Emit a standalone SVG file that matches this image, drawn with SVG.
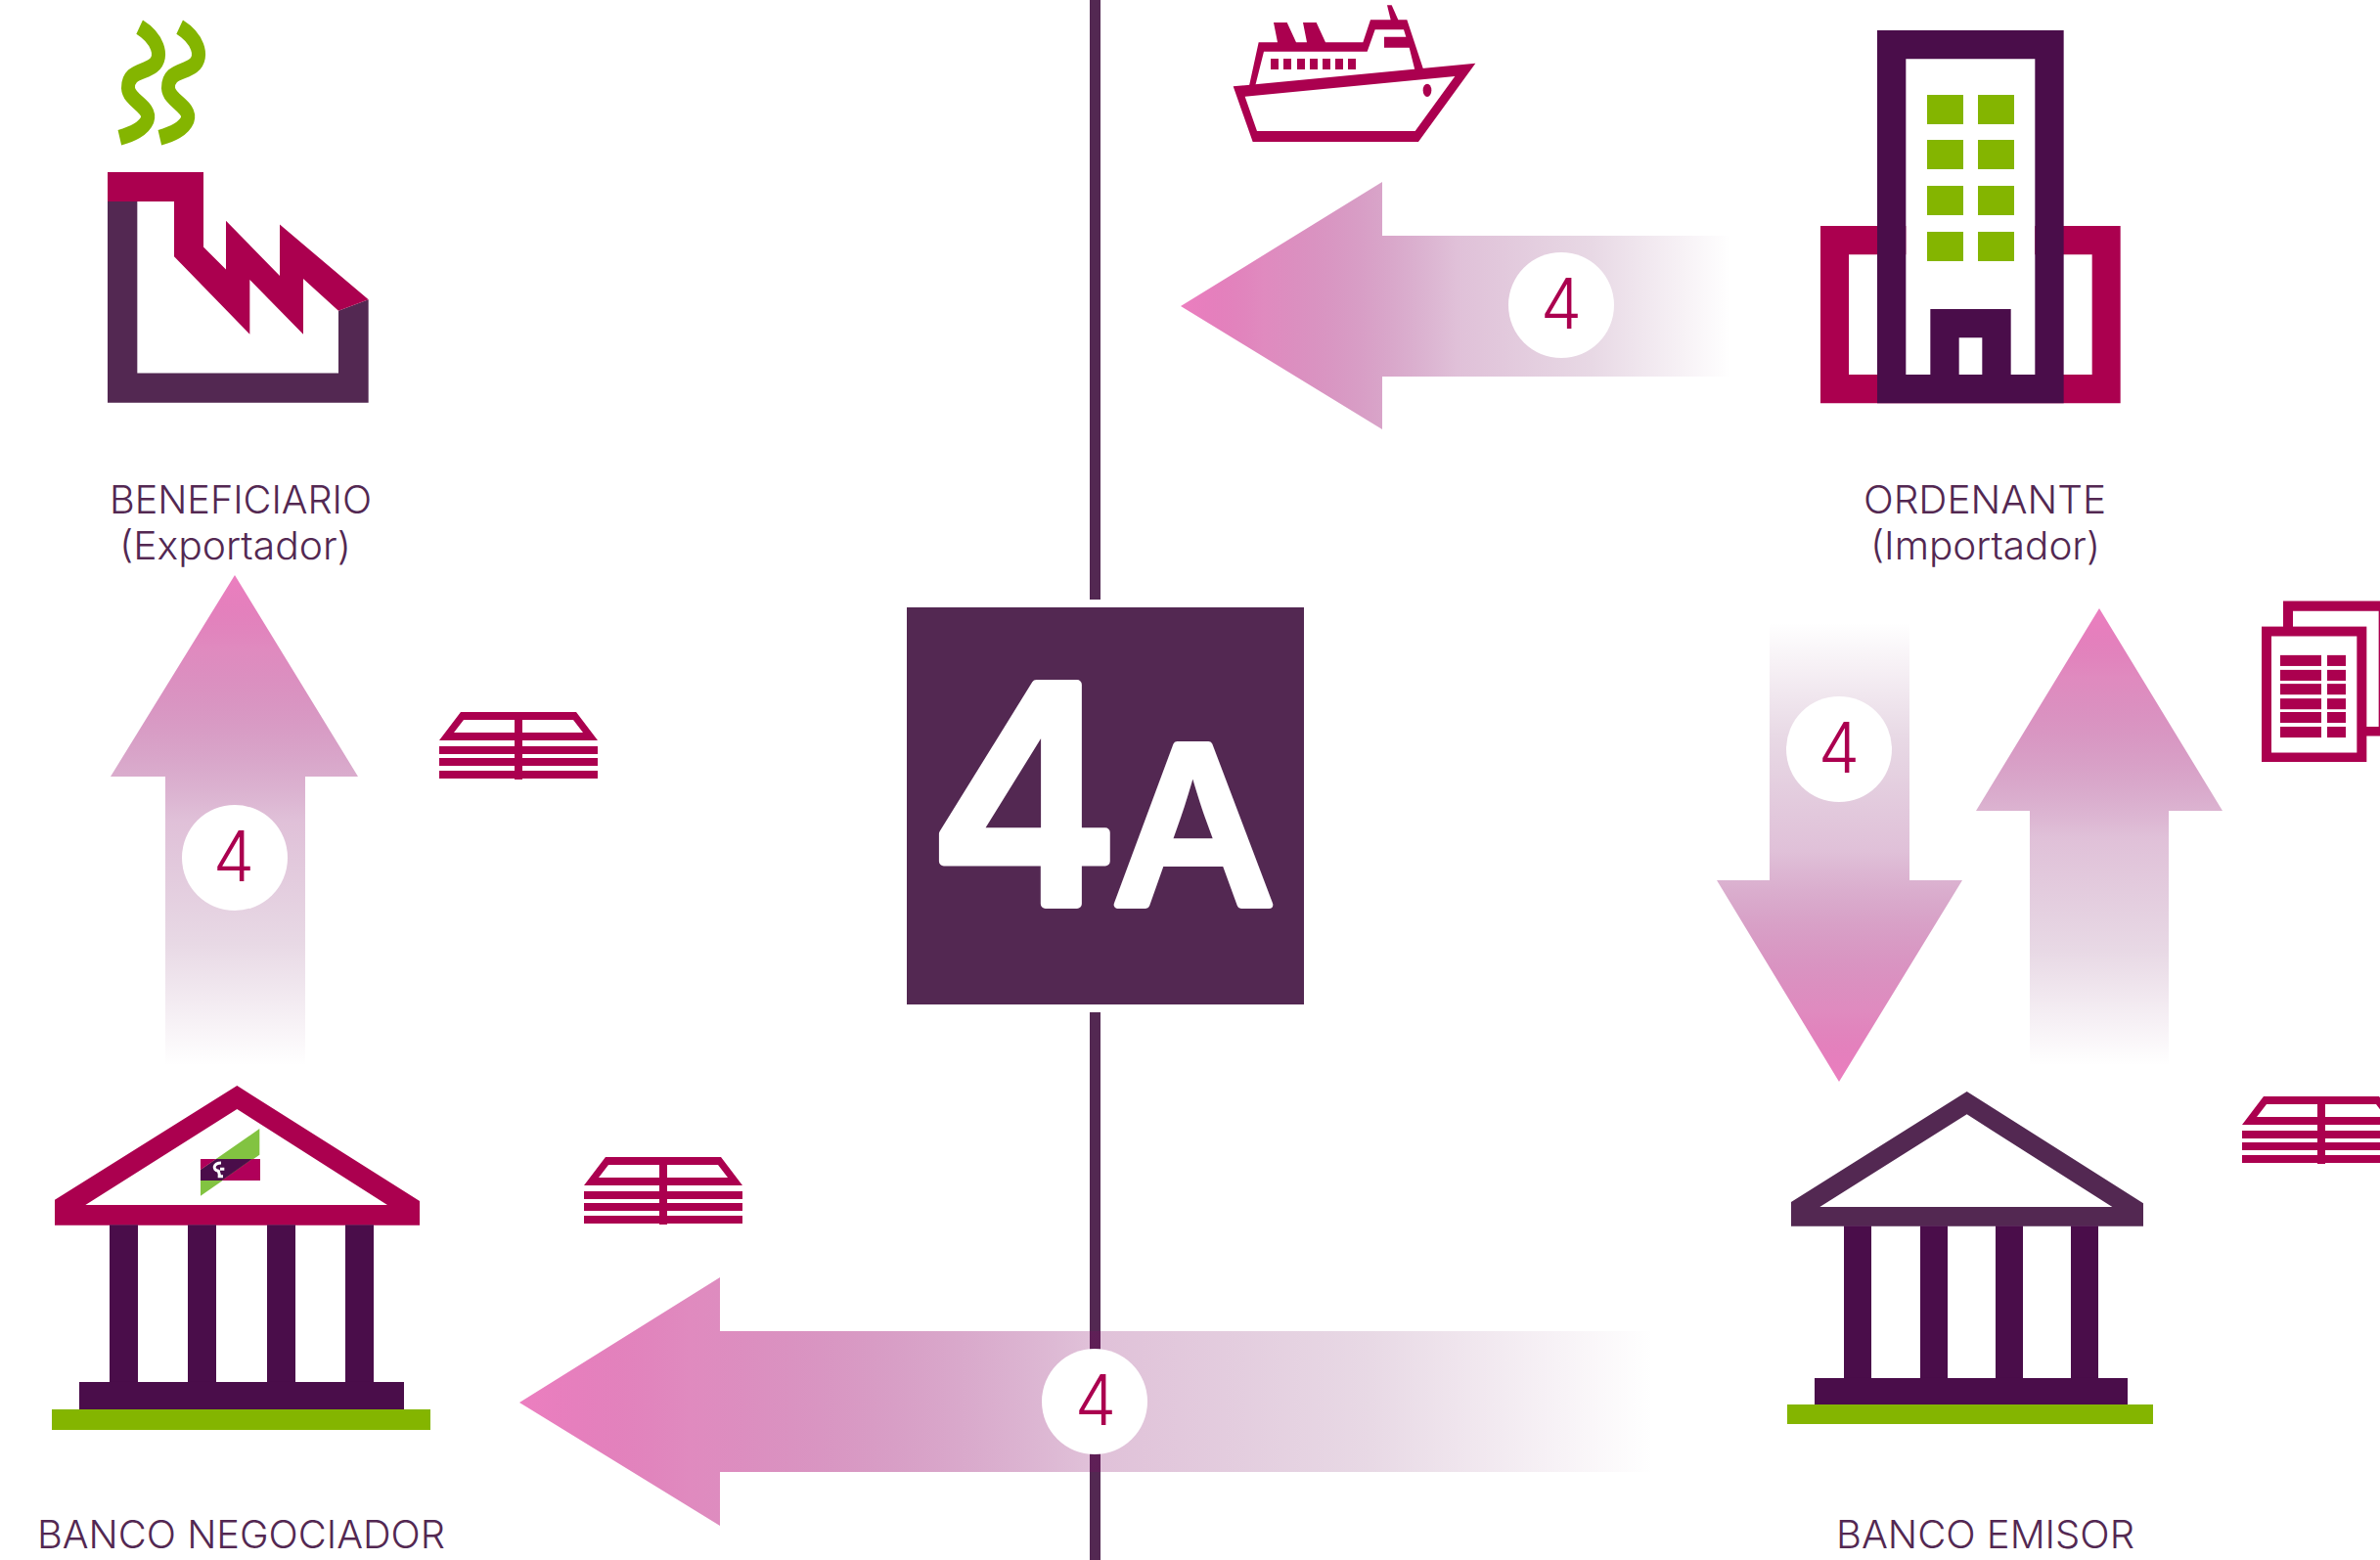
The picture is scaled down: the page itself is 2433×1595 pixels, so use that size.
<svg xmlns="http://www.w3.org/2000/svg" width="2433" height="1595" viewBox="0 0 2433 1595">
<style>
.m{fill:#ab004f}.d{fill:#4a0d4a}.p{fill:#532852}.g{fill:#84b500}
.lbl{font-family:"Inter","Noto Sans",sans-serif;font-weight:300;font-size:39px;fill:#532852}
.n{font-family:"Inter","Noto Sans",sans-serif;font-weight:300;font-size:71px;fill:#ab004f;text-anchor:middle}
.big{font-family:"Inter","Liberation Sans",sans-serif;font-weight:500;fill:#fff;stroke:#fff;stroke-linejoin:round}
.c{fill:#fff}
.smoke{fill:none;stroke:#84b500;stroke-width:42}
.s0{stop-color:#ec7fc0;stop-opacity:1}.s1{stop-color:#d04e9e;stop-opacity:.66}.s2{stop-color:#830464;stop-opacity:.25}.s3{stop-color:#660052;stop-opacity:.15}.s4{stop-color:#660052;stop-opacity:0}
</style>
<defs>
<linearGradient id="gl" x1="0" y1="0" x2="1" y2="0"><stop offset="0" class="s0"/><stop offset=".15" class="s1"/><stop offset=".5" class="s2"/><stop offset=".75" class="s3"/><stop offset="1" class="s4"/></linearGradient>
<linearGradient id="gu" x1="0" y1="0" x2="0" y2="1"><stop offset="0" class="s0"/><stop offset=".15" class="s1"/><stop offset=".5" class="s2"/><stop offset=".75" class="s3"/><stop offset="1" class="s4"/></linearGradient>
<linearGradient id="gd" x1="0" y1="1" x2="0" y2="0"><stop offset="0" class="s0"/><stop offset=".15" class="s1"/><stop offset=".5" class="s2"/><stop offset=".75" class="s3"/><stop offset="1" class="s4"/></linearGradient>
<g id="money" class="m">
<path fill-rule="evenodd" d="M0,29 L22,0 H140 L162,29 Z M15,21 H147 L137,8 H25 Z"/>
<rect x="0" y="35" width="162" height="8"/><rect x="0" y="47" width="162" height="8"/><rect x="0" y="60" width="162" height="8"/>
<rect x="77" y="0" width="8" height="69"/>
</g>
</defs>
<rect width="2433" height="1595" fill="#fff"/>
<g id="connectors">
<path id="line-top" class="p" d="M1114,0H1125V613H1114Z"/>
<path id="line-bottom" class="p" d="M1114,1035H1125V1595H1114Z"/>
<path id="arrow-ship" fill="url(#gl)" d="M1207,313L1413,186V241H1770V385H1413V439Z"/>
<path id="arrow-up-left" fill="url(#gu)" d="M240,588L366,794H312V1090H169V794H113Z"/>
<path id="arrow-down" fill="url(#gd)" d="M1880,1106L2006,900H1952V636H1809V900H1755Z"/>
<path id="arrow-up-right" fill="url(#gu)" d="M2146,622L2272,829H2217V1090H2075V829H2020Z"/>
<path id="arrow-bottom" fill="url(#gl)" d="M531,1434L736,1306V1361H1691V1505H736V1560Z"/>
</g>
<g id="step-1"><circle class="c" cx="1596" cy="312" r="54"/><text class="n" x="1596" y="336" textLength="42" lengthAdjust="spacingAndGlyphs">4</text></g>
<g id="step-2"><circle class="c" cx="240" cy="877" r="54"/><text class="n" x="239" y="901" textLength="42" lengthAdjust="spacingAndGlyphs">4</text></g>
<g id="step-3"><circle class="c" cx="1880" cy="766" r="54"/><text class="n" x="1880" y="790" textLength="42" lengthAdjust="spacingAndGlyphs">4</text></g>
<g id="step-4"><circle class="c" cx="1119" cy="1433" r="54"/><text class="n" x="1120" y="1457" textLength="42" lengthAdjust="spacingAndGlyphs">4</text></g>
<g id="center"><rect class="p" x="927" y="621" width="406" height="406"/>
<text class="big" transform="translate(948,924) scale(.98,1)" font-size="308" stroke-width="10" letter-spacing="-12">4</text>
<text class="big" x="1137" y="925" font-size="224" stroke-width="8" textLength="166" lengthAdjust="spacingAndGlyphs">A</text></g>
<g id="beneficiario">
<g transform="translate(60,0) scale(.33333,.3827)">
<path class="smoke" d="M248,72C300,100 325,150 290,175C260,195 212,190 213,235C215,270 285,285 272,320C260,345 225,358 187,368"/>
<path class="smoke" d="M371,72C423,100 448,150 413,175C383,195 335,190 336,235C338,270 408,285 395,320C383,345 348,358 310,368"/>
<path class="p" d="M150,538V1076H950V800L858,830V997H241V538Z"/>
<path class="m" d="M150,460H444V660L513,720V590L678,737V600L950,800L858,830L750,745V893L586,747V893L354,685V538H150Z"/>
</g>
<text class="lbl" x="112" y="525" textLength="268" lengthAdjust="spacingAndGlyphs">BENEFICIARIO</text>
<text class="lbl" x="122" y="572" textLength="237" lengthAdjust="spacingAndGlyphs">(Exportador)</text>
</g>
<g id="ship" transform="translate(1230,0) scale(.33333)">
<path class="m" fill-rule="evenodd" d="M92,265L835,194L660,435H152ZM128,296L165,402H650L772,234Z"/>
<path class="m" fill-rule="evenodd" d="M140,268L170,130H228L216,69H257L285,130H318L306,69H347L375,130H490L513,61H575L564,16H578L598,61H625L676,215L650,218L632,146H555V113H622L615,91H527L503,158H186L160,262Z"/>
<rect class="m" x="207" y="180" width="24" height="33"/><rect class="m" x="246" y="180" width="24" height="33"/><rect class="m" x="288" y="180" width="24" height="33"/><rect class="m" x="327" y="180" width="24" height="33"/><rect class="m" x="366" y="180" width="24" height="33"/><rect class="m" x="405" y="180" width="24" height="33"/><rect class="m" x="444" y="180" width="24" height="33"/>
<ellipse class="m" cx="687" cy="277" rx="13" ry="20"/>
</g>
<g id="ordenante">
<g transform="translate(1840,0) scale(.33333)">
<path class="m" fill-rule="evenodd" d="M63,693H983V1237H63ZM150,781V1149H896V781Z"/>
<rect x="325" y="693" width="396" height="456" fill="#fff"/>
<path class="d" fill-rule="evenodd" d="M237,93H809V1237H237ZM325,181V1149H400V948H647V1149H721V181ZM488,1036V1149H559V1036Z"/>
<g class="g"><rect x="390" y="291" width="111" height="90"/><rect x="546" y="291" width="111" height="90"/><rect x="390" y="429" width="111" height="90"/><rect x="546" y="429" width="111" height="90"/><rect x="390" y="570" width="111" height="90"/><rect x="546" y="570" width="111" height="90"/><rect x="390" y="711" width="111" height="90"/><rect x="546" y="711" width="111" height="90"/></g>
</g>
<text class="lbl" x="1905" y="525" textLength="248" lengthAdjust="spacingAndGlyphs">ORDENANTE</text>
<text class="lbl" x="1912" y="572" textLength="235" lengthAdjust="spacingAndGlyphs">(Importador)</text>
</g>
<g id="documents" transform="translate(2270,590) scale(.33333,.3954)">
<path class="m" fill-rule="evenodd" d="M192,62H520V411H192ZM222,88V387H485V88Z"/>
<rect class="m" x="126" y="128" width="322" height="350"/><rect x="156" y="153" width="262" height="301" fill="#fff"/>
<g class="m"><rect x="183" y="202" width="126" height="28"/><rect x="327" y="202" width="57" height="28"/><rect x="183" y="240" width="126" height="28"/><rect x="327" y="240" width="57" height="28"/><rect x="183" y="276" width="126" height="28"/><rect x="327" y="276" width="57" height="28"/><rect x="183" y="314" width="126" height="28"/><rect x="327" y="314" width="57" height="28"/><rect x="183" y="349" width="126" height="28"/><rect x="327" y="349" width="57" height="28"/><rect x="183" y="387" width="126" height="28"/><rect x="327" y="387" width="57" height="28"/></g>
</g>
<use id="money-1" href="#money" x="449" y="728"/>
<use id="money-2" href="#money" x="597" y="1183"/>
<use id="money-3" href="#money" x="2292" y="1121"/>
<g id="banco-negociador">
<g transform="translate(30,1090) scale(.33333)">
<path class="m" fill-rule="evenodd" d="M78,410L637,60L1197,414V488H78ZM172,426H1098L637,132Z"/>
<g class="d"><rect x="246" y="487" width="87" height="490"/><rect x="486" y="487" width="87" height="490"/><rect x="729" y="487" width="87" height="490"/><rect x="969" y="487" width="87" height="490"/><rect x="153" y="969" width="996" height="87"/></g>
<rect class="g" x="69" y="1053" width="1161" height="63"/>
<path fill="#82c341" d="M706,192V272L525,398V318Z"/>
<path fill="#b0005a" d="M683,285H708V351H590Z"/>
<path fill="#4a0d4a" d="M573,285H683L590,351H525V318Z"/>
<path fill="#b0005a" d="M525,285H573L525,318Z"/>
<path fill="none" stroke="#fff" stroke-width="9" d="M588,297C565,297 560,318 580,322L585,340M578,338H594M585,316L598,316"/>
</g>
<text class="lbl" x="38" y="1583" textLength="417" lengthAdjust="spacingAndGlyphs">BANCO NEGOCIADOR</text>
</g>
<g id="banco-emisor">
<g transform="translate(1810,1100) scale(.33333)">
<path class="p" fill-rule="evenodd" d="M63,387L602,48L1143,391V461H63ZM151,402H1048L602,118Z"/>
<g class="d"><rect x="225" y="460" width="84" height="480"/><rect x="459" y="460" width="84" height="480"/><rect x="690" y="460" width="84" height="480"/><rect x="921" y="460" width="84" height="480"/><rect x="135" y="927" width="960" height="84"/></g>
<rect class="g" x="51" y="1008" width="1122" height="60"/>
</g>
<text class="lbl" x="1877" y="1583" textLength="305" lengthAdjust="spacingAndGlyphs">BANCO EMISOR</text>
</g>
</svg>
